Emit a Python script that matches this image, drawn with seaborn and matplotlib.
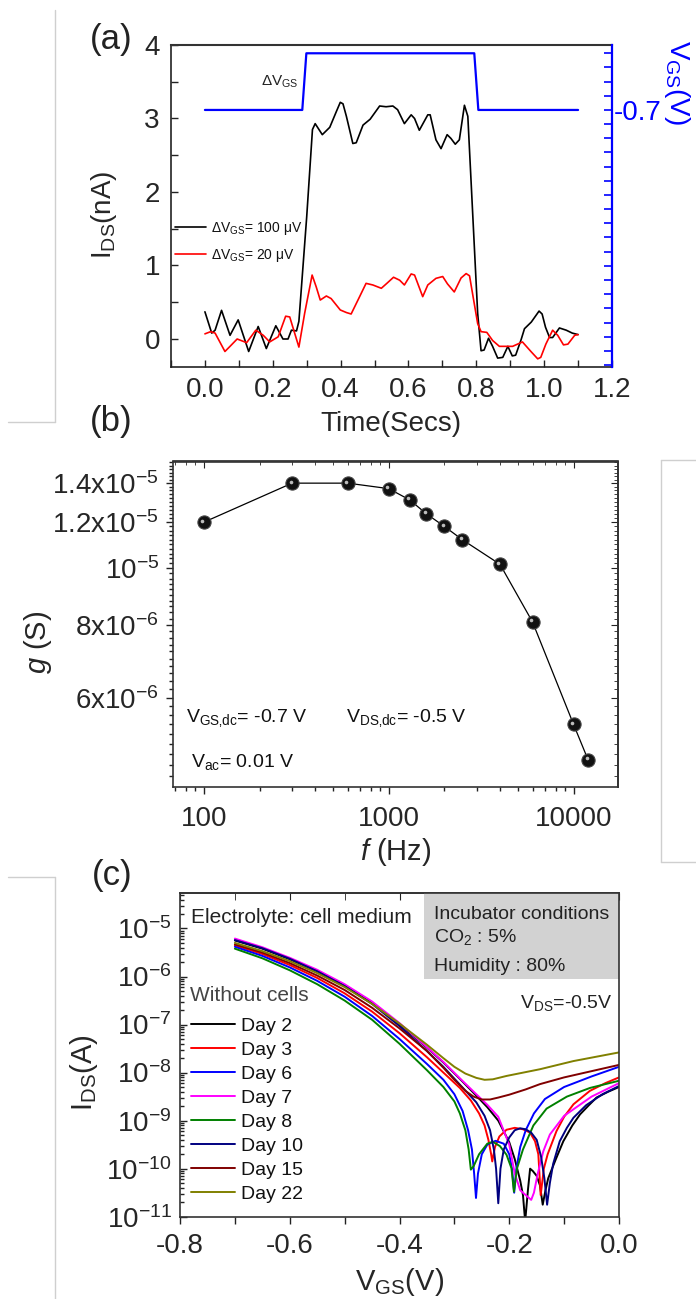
import numpy as np
import pandas as pd
import matplotlib
matplotlib.use("Agg")
import matplotlib.pyplot as plt
import matplotlib.transforms as mtransforms
from matplotlib.lines import Line2D
from matplotlib.patches import Rectangle
from matplotlib.ticker import (FixedLocator, FixedFormatter, NullFormatter,
                               MultipleLocator, LogLocator)
import seaborn as sns

# ---------------- data: panel (a) ----------------
t_100uV = [0.000, 0.020, 0.030, 0.049, 0.074, 0.098, 0.129, 0.157, 0.181, 0.209,
           0.230, 0.245, 0.255, 0.270, 0.277, 0.300, 0.317, 0.325, 0.346, 0.368,
           0.387, 0.399, 0.407, 0.417, 0.436, 0.446, 0.466, 0.487, 0.515, 0.534,
           0.554, 0.568, 0.588, 0.608, 0.618, 0.632, 0.657, 0.664, 0.681, 0.696,
           0.714, 0.725, 0.738, 0.750, 0.765, 0.775, 0.804, 0.814, 0.823, 0.836,
           0.848, 0.863, 0.878, 0.893, 0.906, 0.916, 0.932, 0.942, 0.962, 0.985,
           0.994, 1.004, 1.016, 1.025, 1.045, 1.065, 1.083, 1.100]
i_100uV = [0.37, 0.08, 0.12, 0.39, 0.05, 0.26, -0.17, 0.17, -0.13, 0.18,
           0.00, 0.00, 0.12, 0.11, 0.24, 1.66, 2.85, 2.93, 2.78, 2.88,
           3.09, 3.22, 3.20, 3.03, 2.66, 2.67, 2.91, 2.99, 3.17, 3.16,
           3.17, 3.12, 2.93, 3.05, 3.00, 2.84, 3.05, 3.05, 2.71, 2.59,
           2.78, 2.73, 2.65, 2.71, 3.18, 3.03, 0.35, -0.16, -0.15, 0.01,
           -0.10, -0.26, -0.25, -0.10, -0.23, -0.22, -0.01, 0.14, 0.23, 0.38,
           0.34, 0.16, 0.02, 0.02, 0.15, 0.12, 0.08, 0.06]
t_20uV = [0.000, 0.017, 0.030, 0.059, 0.074, 0.095, 0.123, 0.150, 0.172, 0.191,
          0.216, 0.238, 0.250, 0.277, 0.294, 0.316, 0.328, 0.340, 0.358, 0.372,
          0.399, 0.417, 0.431, 0.456, 0.475, 0.495, 0.520, 0.537, 0.556, 0.574,
          0.588, 0.608, 0.618, 0.642, 0.657, 0.681, 0.701, 0.715, 0.735, 0.755,
          0.770, 0.780, 0.804, 0.814, 0.831, 0.848, 0.868, 0.907, 0.936, 0.961,
          0.981, 0.990, 1.005, 1.025, 1.040, 1.057, 1.070, 1.090, 1.100]
i_20uV = [0.07, 0.10, 0.08, -0.17, -0.10, 0.00, -0.05, 0.12, 0.05, -0.04,
          0.03, 0.31, 0.30, -0.11, 0.35, 0.87, 0.71, 0.53, 0.585, 0.55,
          0.395, 0.36, 0.34, 0.576, 0.757, 0.735, 0.69, 0.76, 0.84, 0.80,
          0.735, 0.885, 0.87, 0.576, 0.735, 0.825, 0.85, 0.75, 0.64, 0.83,
          0.89, 0.86, 0.21, 0.10, 0.09, -0.02, -0.10, -0.10, -0.04, -0.17,
          -0.27, -0.25, -0.07, 0.12, 0.05, -0.08, -0.07, 0.05, 0.06]
t_step = [0.0, 0.287, 0.299, 0.794, 0.806, 1.1]
vgs_step = [-0.7, -0.7, -0.6999, -0.6999, -0.7, -0.7]
legend_a = ["\u0394V$_{\\rm GS}$= 100 \u03bcV", "\u0394V$_{\\rm GS}$= 20 \u03bcV"]

# ---------------- data: panel (b) ----------------
freq_hz = [100, 300, 600, 1000, 1300, 1600, 2000, 2500, 4000, 6000, 10000, 12000]
g_S = [1.20e-5, 1.40e-5, 1.40e-5, 1.37e-5, 1.31e-5, 1.24e-5, 1.18e-5, 1.12e-5,
       1.016e-5, 8.09e-6, 5.40e-6, 4.69e-6]
g_ticks = [6e-6, 8e-6, 1e-5, 1.2e-5, 1.4e-5]
g_ticklabels = ["6x10$^{-6}$", "8x10$^{-6}$", "10$^{-5}$", "1.2x10$^{-5}$", "1.4x10$^{-5}$"]

# ---------------- data: panel (c) (log10 of |I_DS| in A) ----------------
day_labels = ["Day 2", "Day 3", "Day 6", "Day 7", "Day 8", "Day 10", "Day 15", "Day 22"]
day_colors = ["#000000", "#ff0000", "#0000ff", "#ff00ff", "#008000", "#000080", "#800000", "#808000"]

vgs_d2 = [-0.70, -0.65, -0.60, -0.55, -0.50, -0.45, -0.40, -0.35, -0.32, -0.29, -0.26, -0.24,
          -0.22, -0.20, -0.19, -0.18, -0.175, -0.171, -0.166, -0.162, -0.157, -0.150, -0.144,
          -0.139, -0.134, -0.129, -0.115, -0.1015, -0.085, -0.071, -0.055, -0.041, -0.02, 0.0]
log_d2 = [-5.25, -5.42, -5.64, -5.89, -6.19, -6.55, -6.99, -7.48, -7.79, -8.13, -8.48, -8.72,
          -9.00, -9.45, -9.80, -10.25, -10.55, -11.10, -10.45, -10.00, -10.05, -10.15, -10.35,
          -10.75, -10.45, -10.20, -9.80, -9.43, -9.10, -8.87, -8.68, -8.52, -8.40, -8.30]
vgs_d3 = [-0.70, -0.65, -0.60, -0.55, -0.50, -0.45, -0.40, -0.35, -0.32, -0.29, -0.27, -0.255,
          -0.245, -0.238, -0.233, -0.231, -0.226, -0.218, -0.205, -0.19, -0.175, -0.162, -0.153,
          -0.147, -0.1427, -0.137, -0.13, -0.114, -0.10, -0.083, -0.053, -0.025, 0.0]
log_d3 = [-5.35, -5.53, -5.76, -6.03, -6.35, -6.73, -7.18, -7.68, -8.00, -8.32, -8.58, -8.85,
          -9.10, -9.40, -9.70, -9.85, -9.55, -9.33, -9.19, -9.15, -9.18, -9.25, -9.43,
          -9.70, -10.55, -10.00, -9.70, -9.22, -8.92, -8.66, -8.38, -8.22, -8.10]
vgs_d6 = [-0.70, -0.65, -0.60, -0.55, -0.50, -0.45, -0.40, -0.35, -0.32, -0.30, -0.285, -0.275,
          -0.268, -0.264, -0.2606, -0.257, -0.25, -0.24, -0.225, -0.21, -0.20, -0.195, -0.191,
          -0.187, -0.18, -0.17, -0.155, -0.135, -0.10, -0.05, 0.0]
log_d6 = [-5.38, -5.57, -5.81, -6.09, -6.42, -6.82, -7.30, -7.82, -8.15, -8.45, -8.80, -9.20,
          -9.60, -10.10, -10.61, -10.10, -9.70, -9.50, -9.42, -9.48, -9.70, -10.00, -10.50,
          -10.00, -9.55, -9.20, -8.85, -8.55, -8.30, -8.08, -7.88]
vgs_d7 = [-0.70, -0.65, -0.60, -0.55, -0.50, -0.45, -0.40, -0.35, -0.32, -0.29, -0.26, -0.24,
          -0.22, -0.20, -0.19, -0.18, -0.17, -0.16, -0.155, -0.148, -0.138, -0.126, -0.10,
          -0.05, 0.0]
log_d7 = [-5.21, -5.39, -5.61, -5.86, -6.16, -6.52, -6.97, -7.47, -7.78, -8.12, -8.45, -8.67,
          -8.92, -9.50, -10.10, -10.45, -10.55, -10.65, -10.50, -10.10, -9.64, -9.29, -8.90,
          -8.50, -8.22]
vgs_d8 = [-0.70, -0.65, -0.60, -0.55, -0.50, -0.45, -0.40, -0.35, -0.32, -0.30, -0.29, -0.28,
          -0.274, -0.270, -0.265, -0.255, -0.24, -0.23, -0.217, -0.205, -0.196, -0.1915, -0.186,
          -0.175, -0.156, -0.132, -0.095, -0.053, 0.0]
log_d8 = [-5.42, -5.62, -5.87, -6.16, -6.50, -6.90, -7.40, -7.95, -8.30, -8.60, -8.85, -9.20,
          -9.60, -10.02, -9.95, -9.70, -9.48, -9.44, -9.53, -9.71, -9.99, -10.48, -10.00,
          -9.60, -9.10, -8.75, -8.50, -8.32, -8.17]
vgs_d10 = [-0.70, -0.65, -0.60, -0.55, -0.50, -0.45, -0.40, -0.35, -0.32, -0.29, -0.26, -0.245,
           -0.235, -0.228, -0.224, -0.220, -0.216, -0.21, -0.20, -0.19, -0.18, -0.17, -0.16,
           -0.15, -0.142, -0.136, -0.131, -0.126, -0.12, -0.108, -0.095, -0.083, -0.06, -0.03, 0.0]
log_d10 = [-5.24, -5.41, -5.63, -5.89, -6.20, -6.57, -7.03, -7.55, -7.88, -8.25, -8.62, -8.90,
           -9.20, -9.60, -10.00, -10.72, -10.00, -9.60, -9.35, -9.20, -9.16, -9.18, -9.25,
           -9.40, -9.75, -10.20, -10.75, -10.30, -9.90, -9.43, -9.15, -8.94, -8.68, -8.45, -8.28]
vgs_d15 = [-0.70, -0.65, -0.60, -0.55, -0.50, -0.45, -0.40, -0.35, -0.32, -0.30, -0.28, -0.265,
           -0.25, -0.235, -0.22, -0.20, -0.17, -0.144, -0.10, -0.05, 0.0]
log_d15 = [-5.33, -5.50, -5.72, -5.98, -6.28, -6.65, -7.08, -7.55, -7.90, -8.15, -8.38, -8.50,
           -8.56, -8.56, -8.52, -8.46, -8.35, -8.24, -8.10, -7.97, -7.84]
vgs_d22 = [-0.70, -0.65, -0.60, -0.55, -0.50, -0.45, -0.40, -0.35, -0.32, -0.30, -0.28, -0.26,
           -0.245, -0.23, -0.205, -0.144, -0.083, 0.0]
log_d22 = [-5.30, -5.47, -5.68, -5.93, -6.22, -6.57, -6.98, -7.42, -7.70, -7.88, -8.02, -8.11,
           -8.15, -8.14, -8.07, -7.93, -7.76, -7.58]
ids_ticks = [1e-11, 1e-10, 1e-9, 1e-8, 1e-7, 1e-6, 1e-5]
ids_ticklabels = ["10$^{-11}$", "10$^{-10}$", "10$^{-9}$", "10$^{-8}$", "10$^{-7}$", "10$^{-6}$", "10$^{-5}$"]

# ---------------- style ----------------
sns.set_style("ticks")
plt.rcParams["font.family"] = ["Liberation Sans", "DejaVu Sans"]
plt.rcParams["mathtext.fontset"] = "custom"
plt.rcParams["mathtext.rm"] = "Liberation Sans"
plt.rcParams["mathtext.it"] = "Liberation Sans:italic"
plt.rcParams["mathtext.bf"] = "Liberation Sans:bold"
plt.rcParams["mathtext.sf"] = "Liberation Sans"
plt.rcParams["mathtext.default"] = "regular"
plt.rcParams["axes.unicode_minus"] = False
plt.rcParams["text.color"] = "#111111"

W, H = 696, 1299
fig = plt.figure(figsize=(W / 100, H / 100), dpi=100)
fig.patch.set_facecolor("white")


def rect(l, t, r, b):
    return [l / W, 1 - b / H, (r - l) / W, (b - t) / H]


# page artefacts (light gray frame lines)
gray = "#cfcfcf"
for xs, ys in [([55, 55], [10, 422]), ([8, 55], [422, 422]),
               ([8, 55], [877, 877]), ([55, 55], [877, 1299]),
               ([661, 661], [460, 862]), ([661, 696], [460, 460]), ([661, 696], [862, 862])]:
    fig.add_artist(Line2D([x / W for x in xs], [1 - y / H for y in ys],
                          transform=fig.transFigure, color=gray, lw=1.0))

# ================= panel (a) =================
ax_a = fig.add_axes(rect(171, 45, 612, 367))
sns.lineplot(x=t_100uV, y=i_100uV, ax=ax_a, color="black", lw=1.2, sort=False,
             estimator=None, label=legend_a[0], legend=False)
sns.lineplot(x=t_20uV, y=i_20uV, ax=ax_a, color="#ff0000", lw=1.2, sort=False,
             estimator=None, label=legend_a[1], legend=False)
ax_a.set_xlim(-0.1, 1.2)
ax_a.set_ylim(-0.381, 4.0)
ax_a.xaxis.set_minor_locator(MultipleLocator(0.1))
ax_a.set_xticks([0.0, 0.2, 0.4, 0.6, 0.8, 1.0, 1.2],
                ["0.0", "0.2", "0.4", "0.6", "0.8", "1.0", "1.2"])
ax_a.yaxis.set_major_locator(MultipleLocator(1))
ax_a.yaxis.set_minor_locator(MultipleLocator(0.5))
ax_a.tick_params(which="both", direction="in", labelsize=20, width=1.0, color="#222222")
ax_a.tick_params(which="major", length=5)
ax_a.tick_params(which="minor", length=5)
ax_a.tick_params(axis="x", pad=7)
ax_a.tick_params(axis="y", pad=8)
for s in ["left", "bottom"]:
    ax_a.spines[s].set_linewidth(1.2)
    ax_a.spines[s].set_color("#222222")
ax_a.spines["top"].set_linewidth(1.5)
ax_a.spines["top"].set_color("#333333")
ax_a.spines["right"].set_visible(False)
ax_a.set_xlabel("Time(Secs)", fontsize=20)
ax_a.xaxis.label.set_va("center")
ax_a.xaxis.set_label_coords(0.498, -0.177)
ax_a.set_ylabel("I$_{\\rm DS}$(nA)", fontsize=20)
ax_a.yaxis.label.set_va("center")
ax_a.yaxis.set_label_coords(-0.152, 0.472)
leg_a = ax_a.legend(loc="upper left", bbox_to_anchor=(0.008, 0.456), frameon=False,
                    fontsize=10, handlelength=2.3, handletextpad=0.35, labelspacing=0.72,
                    borderpad=0, borderaxespad=0)
ax_a.text(0.165, 3.50, "\u0394V$_{\\rm GS}$", fontsize=11, ha="left", va="center", color="#222222")

tw = ax_a.twinx()
sns.lineplot(x=t_step, y=vgs_step, ax=tw, color="#0000ff", lw=1.6, sort=False, estimator=None)
tw.set_ylim(-0.7004535, -0.6998854)
tw.yaxis.set_major_locator(FixedLocator([-0.7]))
tw.yaxis.set_major_formatter(FixedFormatter(["-0.7"]))
tw.yaxis.set_minor_locator(MultipleLocator(2.5e-5))
tw.tick_params(axis="y", which="both", direction="in", colors="#0000ff", labelsize=20,
               length=6, width=1.2, pad=1)
for s in ["top", "left", "bottom"]:
    tw.spines[s].set_visible(False)
tw.spines["right"].set_color("#0000ff")
tw.spines["right"].set_linewidth(1.6)
tw.set_ylabel("V$_{\\rm GS}$(V)", fontsize=20, color="#0000ff", rotation=270)
tw.yaxis.label.set_va("center")
tw.yaxis.label.set_ha("center")
tw.yaxis.set_label_coords(1.147, 0.885)

# ================= panel (b) =================
ax_b = fig.add_axes(rect(173, 461.5, 617.5, 786.7))
sns.lineplot(x=freq_hz, y=g_S, ax=ax_b, color="black", lw=0.9, sort=False, estimator=None,
             marker="o", markersize=9.5, markerfacecolor="#111111", markeredgecolor="#444444",
             markeredgewidth=0.8)
hl = mtransforms.offset_copy(ax_b.transData, fig=fig, x=-1.6, y=1.6, units="dots")
ax_b.plot(freq_hz, g_S, ls="none", marker="o", markersize=2.6, color="#bdbdbd",
          markeredgewidth=0, transform=hl)
ax_b.set_xscale("log")
ax_b.set_yscale("log")
ax_b.set_xlim(68, 17300)
ax_b.set_ylim(4.22e-6, 1.525e-5)
ax_b.xaxis.set_major_locator(FixedLocator([100, 1000, 10000]))
ax_b.xaxis.set_major_formatter(FixedFormatter(["100", "1000", "10000"]))
ax_b.xaxis.set_minor_locator(LogLocator(base=10, subs=np.arange(2, 10), numticks=20))
ax_b.xaxis.set_minor_formatter(NullFormatter())
ax_b.yaxis.set_major_locator(FixedLocator(g_ticks))
ax_b.yaxis.set_major_formatter(FixedFormatter(g_ticklabels))
ax_b.yaxis.set_minor_locator(FixedLocator(np.arange(4.4e-6, 1.53e-5, 2e-7)))
ax_b.yaxis.set_minor_formatter(NullFormatter())
ax_b.tick_params(which="both", direction="out", labelsize=20, color="#222222", width=1.0)
ax_b.tick_params(which="major", length=5)
ax_b.tick_params(which="minor", length=3)
ax_b.tick_params(axis="x", pad=9)
ax_b.tick_params(axis="y", pad=5)
for s in ax_b.spines.values():
    s.set_linewidth(1.2)
    s.set_color("#333333")
sec_x = ax_b.secondary_xaxis("top")
sec_x.xaxis.set_major_locator(FixedLocator([100, 1000, 10000]))
sec_x.xaxis.set_minor_locator(LogLocator(base=10, subs=np.arange(2, 10), numticks=20))
sec_x.tick_params(which="both", direction="in", labeltop=False, color="#222222")
sec_x.tick_params(which="major", length=5)
sec_x.tick_params(which="minor", length=3)
sec_x.xaxis.set_major_formatter(NullFormatter())
sec_x.xaxis.set_minor_formatter(NullFormatter())
sec_x.spines["top"].set_linewidth(1.2)
sec_y = ax_b.secondary_yaxis("right")
sec_y.yaxis.set_major_locator(FixedLocator(g_ticks))
sec_y.yaxis.set_minor_locator(FixedLocator(np.arange(4.4e-6, 1.53e-5, 2e-7)))
sec_y.yaxis.set_major_formatter(NullFormatter())
sec_y.yaxis.set_minor_formatter(NullFormatter())
sec_y.tick_params(which="both", direction="in", labelright=False, color="#222222")
sec_y.tick_params(which="major", length=5)
sec_y.tick_params(which="minor", length=3)
sec_y.spines["right"].set_linewidth(1.2)
ax_b.set_xlabel("$\\mathit{f}$ (Hz)", fontsize=21)
ax_b.xaxis.label.set_va("center")
ax_b.xaxis.set_label_coords(0.5, -0.201)
ax_b.set_ylabel("$\\mathit{g}$ (S)", fontsize=21)
ax_b.yaxis.label.set_va("center")
ax_b.yaxis.set_label_coords(-0.304, 0.445)
ax_b.text(0.029, 0.199, "V$_{\\rm GS\u201adc}$= -0.7 V", transform=ax_b.transAxes, fontsize=14,
          ha="left", va="baseline")
ax_b.text(0.389, 0.199, "V$_{\\rm DS\u201adc}$= -0.5 V", transform=ax_b.transAxes, fontsize=14,
          ha="left", va="baseline")
ax_b.text(0.040, 0.0615, "V$_{\\rm ac}$= 0.01 V", transform=ax_b.transAxes, fontsize=14,
          ha="left", va="baseline")

# ================= panel (c) =================
ax_c = fig.add_axes(rect(180, 893.3, 619, 1216.7))
ax_c.set_yscale("log")
curves = [(vgs_d2, log_d2), (vgs_d3, log_d3), (vgs_d6, log_d6), (vgs_d7, log_d7),
          (vgs_d8, log_d8), (vgs_d10, log_d10), (vgs_d15, log_d15), (vgs_d22, log_d22)]
for (v, lg), lab, col in zip(curves, day_labels, day_colors):
    sns.lineplot(x=v, y=np.power(10.0, lg), ax=ax_c, color=col, lw=1.4, sort=False,
                 estimator=None, label=lab, legend=False)
ax_c.set_xlim(-0.8, 0.0)
ax_c.set_ylim(1e-11, 5.4e-5)
ax_c.set_xticks([-0.8, -0.6, -0.4, -0.2, 0.0], ["-0.8", "-0.6", "-0.4", "-0.2", "0.0"])
ax_c.xaxis.set_minor_locator(MultipleLocator(0.1))
ax_c.yaxis.set_major_locator(FixedLocator(ids_ticks))
ax_c.yaxis.set_major_formatter(FixedFormatter(ids_ticklabels))
ax_c.yaxis.set_minor_locator(LogLocator(base=10, subs=np.arange(2, 10), numticks=30))
ax_c.yaxis.set_minor_formatter(NullFormatter())
ax_c.tick_params(which="both", labelsize=20, color="#222222", width=1.0)
ax_c.tick_params(axis="x", which="both", direction="out", length=5, pad=7)
ax_c.tick_params(axis="y", which="major", direction="in", length=5, pad=6)
ax_c.tick_params(axis="y", which="minor", direction="in", length=3)
for s in ax_c.spines.values():
    s.set_linewidth(1.2)
    s.set_color("#333333")
sec_cx = ax_c.secondary_xaxis("top")
sec_cx.set_xticks([-0.8, -0.6, -0.4, -0.2, 0.0])
sec_cx.xaxis.set_minor_locator(MultipleLocator(0.1))
sec_cx.tick_params(which="both", direction="in", labeltop=False, length=5, color="#222222")
sec_cx.spines["top"].set_linewidth(1.2)
ax_c.add_patch(Rectangle((0.5567, 0.734), 0.4433, 0.266, transform=ax_c.transAxes,
                         facecolor="#d2d2d2", edgecolor="none", zorder=0.5))
ax_c.text(0.5786, 0.9196, "Incubator conditions", transform=ax_c.transAxes, fontsize=14,
          ha="left", va="baseline", color="#222222")
ax_c.text(0.5786, 0.850, "CO$_2$ : 5%", transform=ax_c.transAxes, fontsize=14,
          ha="left", va="baseline", color="#222222")
ax_c.text(0.5786, 0.760, "Humidity : 80%", transform=ax_c.transAxes, fontsize=14,
          ha="left", va="baseline", color="#222222")
ax_c.text(0.025, 0.907, "Electrolyte: cell medium", transform=ax_c.transAxes, fontsize=15,
          ha="left", va="baseline", color="#222222")
ax_c.text(0.0228, 0.666, "Without cells", transform=ax_c.transAxes, fontsize=15,
          ha="left", va="baseline", color="#444444")
ax_c.text(0.986, 0.644, "V$_{\\rm DS}$=-0.5V", transform=ax_c.transAxes, fontsize=14,
          ha="right", va="baseline", color="#222222")
ax_c.legend(loc="upper left", bbox_to_anchor=(0.025, 0.6175), frameon=False, fontsize=14,
            handlelength=2.25, handletextpad=0.33, labelspacing=0.33,
            borderpad=0, borderaxespad=0)
ax_c.set_xlabel("V$_{\\rm GS}$(V)", fontsize=21)
ax_c.xaxis.label.set_va("center")
ax_c.xaxis.set_label_coords(0.501, -0.202)
ax_c.set_ylabel("I$_{\\rm DS}$(A)", fontsize=21)
ax_c.yaxis.label.set_va("center")
ax_c.yaxis.set_label_coords(-0.219, 0.444)

# panel letters
for lab, (x, y) in zip(["(a)", "(b)", "(c)"], [(111, 40), (111, 421), (112, 876)]):
    fig.text(x / W, 1 - y / H, lab, fontsize=25, ha="center", va="center", color="#222222")

fig.savefig("out.png", dpi=100)
